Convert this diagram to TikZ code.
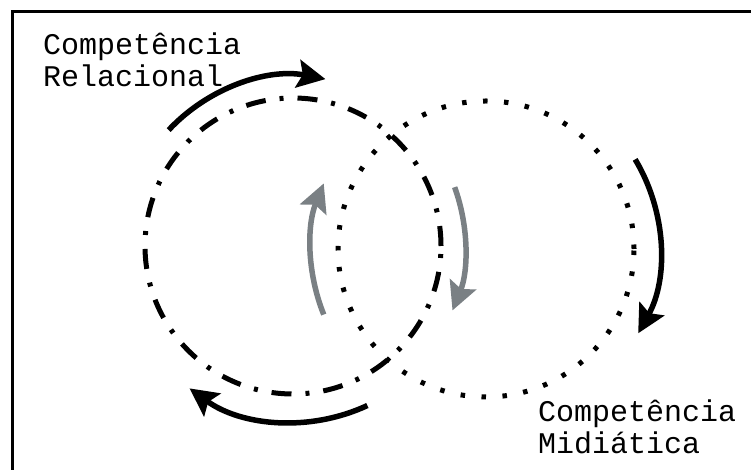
\documentclass[tikz,border=0pt]{standalone}
\usepackage{fontspec}
\setmonofont{Liberation Mono}
\usetikzlibrary{arrows.meta}
\definecolor{flowgray}{HTML}{7A8084}
\tikzset{
  x=1pt, y=1pt,
  ring/.style={circle, draw, line width=5pt, minimum size=296pt, inner sep=0pt},
  relring/.style={ring, dash pattern=on 20pt off 14pt on 4pt off 14pt},
  midring/.style={ring, dash pattern=on 4.5pt off 16.5pt},
  flow/.style={line width=5.5pt, -{Stealth[length=28pt,width=28pt,inset=5pt]}},
  blackflow/.style={flow, black},
  grayflow/.style={flow, flowgray},
  label/.style={font=\ttfamily\fontsize{30}{32}\selectfont, inner sep=0pt, anchor=base west}
}
\begin{document}
\begin{tikzpicture}
  \useasboundingbox (0,0) rectangle (751,470);
  % open frame: left and top edges only
  \draw[line width=3pt] (12,0) -- (12,458) -- (751,458);

  % the two competence circles
  \node[relring] (rel) at (293,224) {};
  \node[midring] (mid) at (486,221) {};

  % circulating arrows around the relational circle
  \draw[blackflow] (rel.center) ++(137:170) arc[start angle=137, end angle=79, radius=170];
  \draw[blackflow] (rel.center) ++(-65:176) arc[start angle=-65, end angle=-126, radius=176];
  \draw[grayflow]  (rel.center) ++(20:172) arc[start angle=20, end angle=-22, radius=172];

  % circulating arrows around the media circle
  \draw[blackflow] (mid.center) ++(31:174) arc[start angle=31, end angle=-29, radius=174];
  \draw[grayflow]  (mid.center) ++(202:175) arc[start angle=202, end angle=158, radius=175];

  % labels
  \node[label] (relA) at (43,415) {Competência};
  \node[label] (relB) at (43,383) {Relacional};
  \node[label] (midA) at (538,48) {Competência};
  \node[label] (midB) at (538,16) {Midiática};
\end{tikzpicture}
\end{document}
